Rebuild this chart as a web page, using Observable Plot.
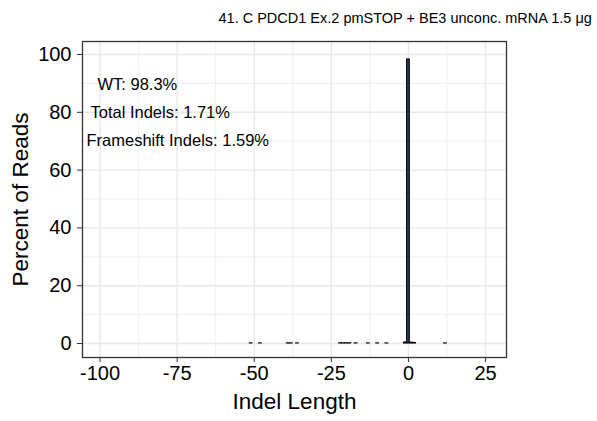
<!DOCTYPE html>
<html>
<head>
<meta charset="utf-8">
<script src="https://cdn.jsdelivr.net/npm/d3@7"></script>
<script src="https://cdn.jsdelivr.net/npm/@observablehq/plot@0.6"></script>
<style>
  html, body { margin: 0; padding: 0; background: white; }
  svg { font-family: "Liberation Sans", Arial, Helvetica, sans-serif; }
</style>
</head>
<body>
<div id="chart"></div>
<script>
// ---- data ----
const titleText = "41. C PDCD1 Ex.2 pmSTOP + BE3 unconc. mRNA 1.5 μg";
const xLabel = "Indel Length";
const yLabel = "Percent of Reads";
const indelLength = [-51, -48, -39, -38, -36, -22, -21, -20, -19, -17, -13, -10, -7, -1, 0, 1, 2, 12];
const percentReads = [0.05, 0.05, 0.06, 0.06, 0.05, 0.08, 0.08, 0.08, 0.08, 0.06, 0.04, 0.04, 0.05, 0.35, 98.29, 0.3, 0.2, 0.05];
const annotations = ["WT: 98.3%", "Total Indels: 1.71%", "Frameshift Indels: 1.59%"];
const xTicks = [-100, -75, -50, -25, 0, 25];
const xMinorTicks = [-87.5, -62.5, -37.5, -12.5, 12.5];
const yTicks = [0, 20, 40, 60, 80, 100];
const yMinorTicks = [10, 30, 50, 70, 90];

const data = indelLength.map((len, i) => ({len, pct: percentReads[i]}));
const gridColor = "#E8E8E8";
const font = "Liberation Sans, Arial, Helvetica, sans-serif";

const chart = Plot.plot({
  width: 597,
  height: 421,
  marginLeft: 82,
  marginRight: 91,
  marginTop: 41,
  marginBottom: 64,
  style: {fontFamily: font, background: "white"},
  x: {domain: [-105.7, 31.8]},
  y: {domain: [-4.84, 104.5]},
  marks: [
    Plot.gridX(xMinorTicks, {stroke: gridColor, strokeOpacity: 1, strokeWidth: 0.7}),
    Plot.gridY(yMinorTicks, {stroke: gridColor, strokeOpacity: 1, strokeWidth: 0.7}),
    Plot.gridX(xTicks, {stroke: gridColor, strokeOpacity: 1, strokeWidth: 1.4}),
    Plot.gridY(yTicks, {stroke: gridColor, strokeOpacity: 1, strokeWidth: 1.4}),
    Plot.rectY(data, {
      x1: d => d.len - 0.45,
      x2: d => d.len + 0.45,
      y1: 0,
      y2: "pct",
      fill: "#2c3b4f",
      stroke: "black",
      strokeWidth: 1
    }),
    Plot.text([annotations[0]], {frameAnchor: "top-left", dx: 15, dy: 43, textAnchor: "start", lineAnchor: "middle", fontSize: 16.5, fill: "black"}),
    Plot.text([annotations[1]], {frameAnchor: "top-left", dx: 8, dy: 71, textAnchor: "start", lineAnchor: "middle", fontSize: 16.5, fill: "black"}),
    Plot.text([annotations[2]], {frameAnchor: "top-left", dx: 4, dy: 99, textAnchor: "start", lineAnchor: "middle", fontSize: 16.5, fill: "black"}),
    Plot.frame({stroke: "#333333", strokeWidth: 1.3}),
    Plot.axisX({ticks: xTicks, tickFormat: d => String(d), tickSize: 5, tickPadding: 3, fontSize: 20, label: null, stroke: "#333333", color: "black"}),
    Plot.axisY({ticks: yTicks, tickFormat: d => String(d), tickSize: 5, tickPadding: 6, fontSize: 20, label: null, stroke: "#333333", color: "black"}),
    Plot.text([xLabel], {frameAnchor: "bottom", dy: 44, lineAnchor: "middle", fontSize: 22.5, fill: "black"}),
    Plot.text([yLabel], {frameAnchor: "left", dx: -62, rotate: -90, textAnchor: "middle", lineAnchor: "middle", fontSize: 22.5, fill: "black"}),
    Plot.text([titleText], {frameAnchor: "top-left", dx: 136, dy: -23, textAnchor: "start", lineAnchor: "middle", fontSize: 14.5, fill: "black"})
  ]
});
document.getElementById("chart").appendChild(chart);
</script>
</body>
</html>
